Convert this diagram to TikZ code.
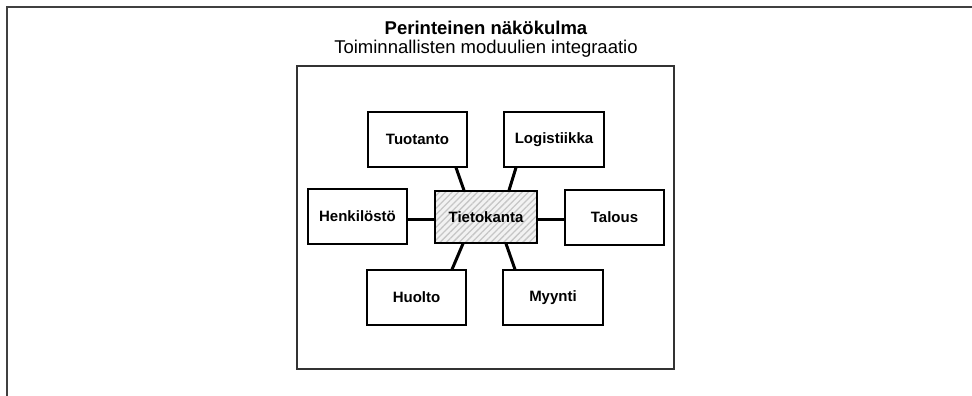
\documentclass[tikz,border=0pt]{standalone}
\usepackage{fontspec}
\setmainfont{Liberation Sans}
\usetikzlibrary{patterns.meta}
\begin{document}
\begin{tikzpicture}[x=1pt,y=-1pt,
  module/.style={draw=black, line width=1.2pt, fill=white, minimum width=99pt,
    minimum height=55pt, inner sep=0pt, font=\fontsize{15}{18}\selectfont\bfseries},
  dbbox/.style={module, minimum width=102pt, minimum height=52pt,
    pattern={Lines[angle=45,distance=4.5pt,line width=1.3pt]}, pattern color=gray!45,
    preaction={fill=gray!10}},
  link/.style={line width=3pt, black},
  titlefont/.style={font=\fontsize{18.5}{22}\selectfont}]
\useasboundingbox (0,0) rectangle (972,396);
% page frame (top and left edges)
\draw[black!75, line width=2pt] (972,7.5) -- (6.5,7.5) -- (6.5,396);
% heading
\node[titlefont, anchor=base, font=\fontsize{18.5}{22}\selectfont\bfseries] (head) at (486,35) {Perinteinen näkökulma};
\node[titlefont, anchor=base] (sub) at (486,54) {Toiminnallisten moduulien integraatio};
% enclosing frame
\draw[black!80, line width=1.3pt] (297,66) rectangle (674,369);
% modules
\node[dbbox] (db) at (486,217) {Tietokanta};
\node[module] (tuo) at (417.5,139.5) {Tuotanto};
\node[module, minimum width=100pt] (log) at (554,139.5) {Logistiikka};
\node[module] (hen) at (357.5,216.5) {Henkilöstö};
\node[module] (tal) at (614.5,217.5) {Talous};
\node[module] (huo) at (416.5,297.5) {Huolto};
\node[module, minimum width=100pt] (myy) at (553,297.5) {Myynti};
% links to the database
\draw[link] ([xshift=38.5pt]tuo.south) -- ([xshift=-22pt]db.north);
\draw[link] ([xshift=-38pt]log.south) -- ([xshift=23pt]db.north);
\draw[link] ([yshift=-3pt]hen.east) -- ([yshift=-2.5pt]db.west);
\draw[link] ([yshift=-1.5pt]tal.west) -- ([yshift=-2pt]db.east);
\draw[link] ([xshift=35.5pt]huo.north) -- ([xshift=-23pt]db.south);
\draw[link] ([xshift=-38pt]myy.north) -- ([xshift=20pt]db.south);
\end{tikzpicture}
\end{document}
